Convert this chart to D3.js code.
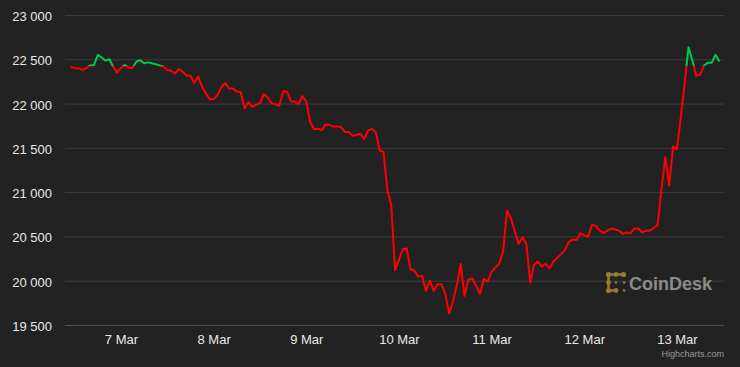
<!DOCTYPE html>
<html>
<head>
<meta charset="utf-8">
<script src="https://cdn.jsdelivr.net/npm/d3@7"></script>
<style>
  html, body { margin:0; padding:0; background:#222222; }
  .canvas { width:740px; height:367px; }
  text { font-family:'Liberation Sans', Arial, Helvetica, sans-serif; }
</style>
</head>
<body>
<div class="canvas" id="canvas"></div>
<script>
// hourly BTC price, first point 6 Mar 2023 11:00
var startTime = new Date(2023, 2, 6, 11);
var prices = [
  22415,22400,22400,22380,22400,22430,22435,22550,22520,22485,22500,22415,22350,
  22405,22435,22405,22405,22475,22490,22455,22465,22455,22445,22430,22415,22380,
  22370,22340,22390,22360,22315,22315,22235,22305,22190,22115,22050,
  22050,22095,22185,22230,22170,22170,22135,22130,21945,22015,21965,21985,22005,
  22105,22070,22005,21990,21975,22135,22135,22030,22020,21995,22085,
  22020,21795,21710,21715,21700,21765,21760,21740,21740,21735,21680,21680,21635,
  21645,21660,21600,21695,21715,21675,21470,21455,21025,20855,20120,
  20235,20355,20365,20130,20115,20045,20055,19885,20000,19885,19960,19960,19850,
  19630,19770,19950,20190,19830,20015,20025,19940,19850,20020,19990,
  20100,20150,20195,20340,20790,20705,20560,20415,20490,20415,19980,20180,20215,
  20160,20190,20140,20215,20255,20300,20345,20440,20465,20460,20535,
  20515,20495,20630,20620,20565,20540,20565,20590,20580,20565,20530,20545,20535,
  20590,20590,20545,20565,20565,20595,20630,21025,21395,21075,21515,
  21485,21840,22220,22635,22490,22315,22325,22430,22460,22460,22550,22475
];
// above this the line turns green
var threshold = 22425;
var yTicks = [19500, 20000, 20500, 21000, 21500, 22000, 22500, 23000];
var dayTicks = [7, 8, 9, 10, 11, 12, 13];

var m = {t:15, r:16, b:42, l:65},
    W = 740, H = 367,
    w = W - m.l - m.r,
    h = H - m.t - m.b;

var data = prices.map(function(p, i){
    return {date: d3.timeHour.offset(startTime, i), price: p};
});

var svg = d3.select('.canvas')
    .append('svg')
    .attr('width', W)
    .attr('height', H);

svg.append('rect').attr('width', W).attr('height', H).attr('fill', '#222222');

var plot = svg.append('g').attr('class','plot')
    .attr('transform','translate('+ m.l+','+ m.t+')');

var scaleX = d3.scaleTime()
    .domain([new Date(2023, 2, 6, 9, 30), new Date(2023, 2, 13, 12, 12)])
    .range([0, w]);
var scaleY = d3.scaleLinear().domain([19500, 23000]).range([h, 0]);

var fmt = function(d){ return d3.format(',')(d).replace(',', ' '); };

//y axis + grid
var yAxis = plot.append('g').attr('class','y-axis')
    .call(d3.axisLeft(scaleY).tickValues(yTicks).tickSize(-w).tickPadding(13).tickFormat(fmt));
yAxis.select('.domain').remove();
yAxis.selectAll('line').attr('stroke', '#3d3d3d').attr('stroke-width', 1);
yAxis.selectAll('.tick').filter(function(d){ return d === 19500; })
    .select('line').attr('stroke', '#505050');
yAxis.selectAll('text')
    .attr('fill', '#e8e8e8')
    .attr('font-size', 13)
    .attr('dy', '0.42em');

//x axis
var xAxis = plot.append('g').attr('class','x-axis')
    .attr('transform','translate(0,'+ h +')')
    .call(d3.axisBottom(scaleX)
        .tickValues(dayTicks.map(function(d){ return new Date(2023, 2, d); }))
        .tickSize(0).tickPadding(10)
        .tickFormat(d3.timeFormat('%-d %b')));
xAxis.select('.domain').remove();
xAxis.selectAll('text').attr('fill', '#e8e8e8').attr('font-size', 13);

//watermark
var logo = svg.append('g').attr('transform','translate(607,273)');
var gold = '#9a7b2c';
logo.append('path')
    .attr('d', 'M1.5,1.5 H16.5 M1.5,1.5 V17.5 M1.5,17.5 H9')
    .attr('stroke', gold).attr('stroke-width', 2.6).attr('fill', 'none');
[[1.5,1.5,2.6],[9,1.5,2.4],[16.5,1.5,2.6],[1.5,9.5,2.4],[1.5,17.5,2.6],[9,17.5,2.4]]
    .forEach(function(c){
        logo.append('circle').attr('cx', c[0]).attr('cy', c[1]).attr('r', c[2]).attr('fill', gold);
    });
[[9,9.5],[17,9.5],[17,17.5]].forEach(function(c){
    logo.append('circle').attr('cx', c[0]).attr('cy', c[1]).attr('r', 1.3).attr('fill', gold);
});
svg.append('text')
    .attr('x', 629).attr('y', 290)
    .attr('font-size', 18).attr('font-weight', 'bold')
    .attr('fill', '#8c8c8c')
    .text('CoinDesk');

//line split by threshold
var line = d3.line()
    .x(function(d){ return scaleX(d.date); })
    .y(function(d){ return scaleY(d.price); });

var ty = scaleY(threshold);
var defs = svg.append('defs');
defs.append('clipPath').attr('id','clip-up')
    .append('rect').attr('x', -5).attr('y', -20).attr('width', w + 10).attr('height', ty + 20);
defs.append('clipPath').attr('id','clip-down')
    .append('rect').attr('x', -5).attr('y', ty).attr('width', w + 10).attr('height', h - ty + 20);

plot.append('path').datum(data)
    .attr('d', line)
    .attr('fill', 'none')
    .attr('stroke', '#ff0000')
    .attr('stroke-width', 2)
    .attr('stroke-linejoin', 'round')
    .attr('clip-path', 'url(#clip-down)');
plot.append('path').datum(data)
    .attr('d', line)
    .attr('fill', 'none')
    .attr('stroke', '#00c853')
    .attr('stroke-width', 2)
    .attr('stroke-linejoin', 'round')
    .attr('clip-path', 'url(#clip-up)');

svg.append('text')
    .attr('x', 724).attr('y', 357)
    .attr('text-anchor', 'end')
    .attr('font-size', 9)
    .attr('fill', '#999999')
    .text('Highcharts.com');
</script>
</body>
</html>
